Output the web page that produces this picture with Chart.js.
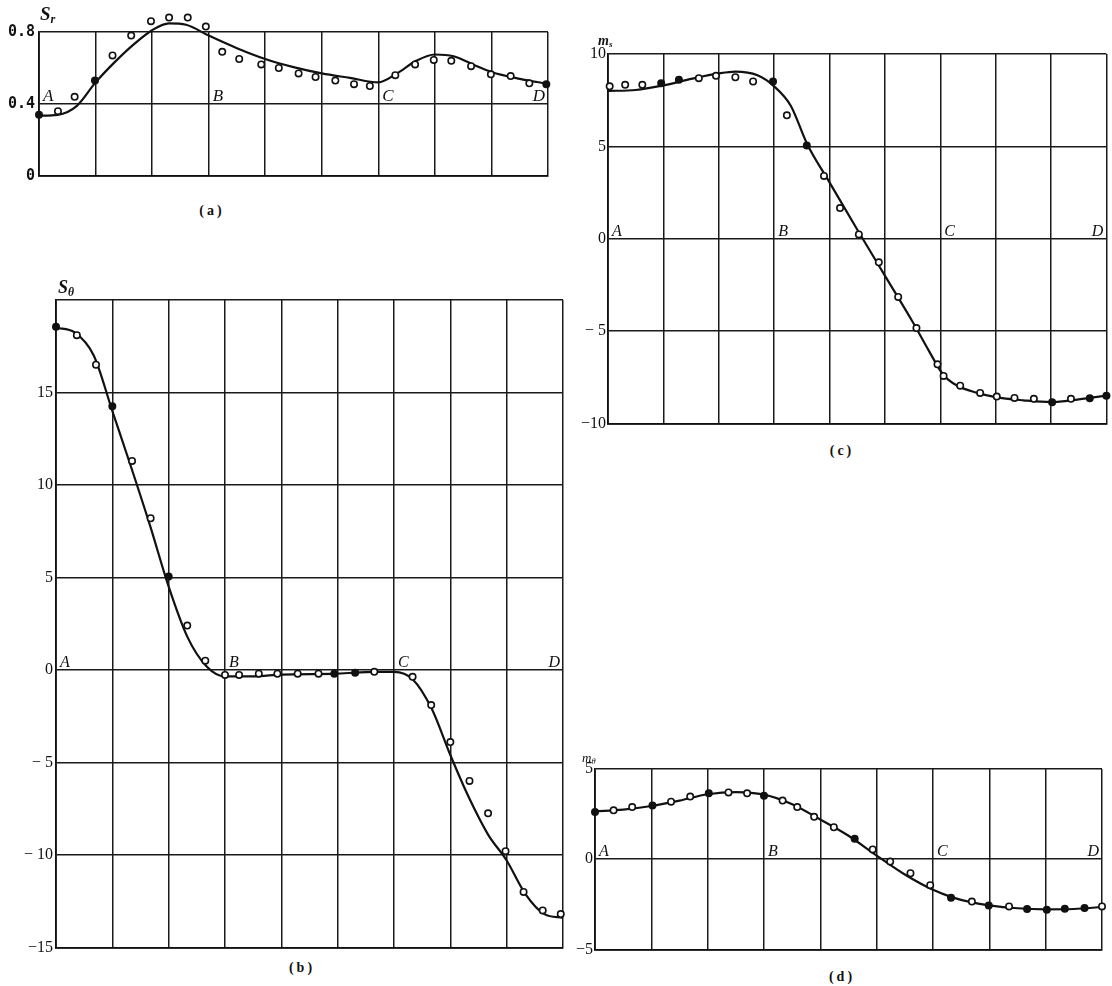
<!DOCTYPE html>
<html><head><meta charset="utf-8">
<script src="https://cdn.jsdelivr.net/npm/chart.js@4.4.1/dist/chart.umd.min.js"></script>
<style>
html,body{margin:0;padding:0;background:#fff;width:1112px;height:986px;overflow:hidden;}
canvas{position:absolute;}
.lbl{position:absolute;font-family:"Liberation Serif","DejaVu Serif",serif;color:#111;white-space:nowrap;line-height:1;}
.ttl{font-style:italic;font-weight:bold;}
.ttl sub{font-size:0.65em;vertical-align:-0.25em;}
.cap{font-size:14px;font-weight:bold;letter-spacing:3px;transform:translateX(-50%);}
</style></head><body>
<canvas id="ca"></canvas>
<canvas id="cb"></canvas>
<canvas id="cc"></canvas>
<canvas id="cd"></canvas>
<div class="lbl ttl" style="left:40px;top:4px;font-size:19px;">S<sub>r</sub></div>
<div class="lbl ttl" style="left:58px;top:278px;font-size:18px;">S<sub>θ</sub></div>
<div class="lbl ttl" style="left:598px;top:34px;font-size:14px;">m<sub>s</sub></div>
<div class="lbl ttl" style="left:582px;top:751px;font-size:13px;font-weight:normal;">m<sub>θ</sub></div>
<div class="lbl cap" style="left:212px;top:204px;">(a)</div>
<div class="lbl cap" style="left:302px;top:961px;">(b)</div>
<div class="lbl cap" style="left:842px;top:444px;">(c)</div>
<div class="lbl cap" style="left:842px;top:970px;">(d)</div>
<script>
// ---------- data ----------
const pointLetters = ['A','B','C','D'];
const letterX = [0, 3, 6, 9];

// (a) S_r
const aPtX = [0,0.335,0.63,0.99,1.30,1.63,1.98,2.30,2.63,2.95,3.24,3.54,3.93,4.24,4.59,4.89,5.24,5.57,5.85,6.30,6.65,6.98,7.29,7.64,7.99,8.34,8.67,8.97];
const aPtY = [0.34,0.36,0.44,0.53,0.67,0.78,0.86,0.88,0.88,0.83,0.69,0.65,0.62,0.60,0.57,0.55,0.53,0.51,0.50,0.56,0.62,0.645,0.64,0.61,0.565,0.555,0.515,0.51];
const aFilled = [0,3,27];
const aCurveX = [0,0.33,0.67,1,1.33,1.67,2,2.3,2.6,3,3.5,4,4.5,5,5.5,6,6.33,6.67,7,7.33,7.67,8,8.5,9];
const aCurveY = [0.335,0.34,0.39,0.52,0.63,0.73,0.81,0.848,0.84,0.78,0.71,0.65,0.605,0.57,0.545,0.52,0.57,0.64,0.675,0.665,0.62,0.578,0.54,0.512];
const aTickVals = [0,0.4,0.8];
const aTickLabels = ['0','0.4','0.8'];

// (b) S_theta
const bPtX = [0,0.37,0.71,1.0,1.35,1.68,2.0,2.33,2.65,3.0,3.25,3.6,3.93,4.29,4.66,4.94,5.31,5.65,6.33,6.66,7.0,7.34,7.67,7.98,8.30,8.64,8.96];
const bPtY = [18.55,18.1,16.5,14.25,11.3,8.2,5.05,2.4,0.5,-0.27,-0.27,-0.2,-0.2,-0.2,-0.2,-0.2,-0.15,-0.1,-0.37,-1.9,-3.9,-6.0,-7.75,-9.8,-12.0,-13.0,-13.2];
const bFilled = [0,3,6,15,16];
const bCurveX = [0,0.33,0.67,1,1.33,1.67,2,2.33,2.67,3,3.5,4,5,5.67,6,6.33,6.67,7,7.33,7.67,8,8.33,8.67,9];
const bCurveY = [18.5,18.25,17.0,14.0,11.0,7.8,4.5,1.8,0.2,-0.35,-0.35,-0.25,-0.2,-0.1,-0.1,-0.5,-2.1,-4.6,-6.9,-8.9,-10.3,-12.1,-13.2,-13.4];
const bTickVals = [-15,-10,-5,0,5,10,15,20];
const bTickLabels = ['−15','− 10','− 5','0','5','10','15',''];

// (c) m_s
const cPtX = [0.03,0.31,0.62,0.96,1.28,1.64,1.95,2.30,2.62,2.98,3.23,3.59,3.90,4.19,4.53,4.89,5.24,5.57,5.95,6.06,6.36,6.72,7.02,7.34,7.69,8.02,8.36,8.70,9.0];
const cPtY = [8.25,8.33,8.33,8.42,8.6,8.69,8.82,8.74,8.51,8.51,6.68,5.04,3.40,1.66,0.23,-1.28,-3.15,-4.84,-6.8,-7.43,-7.96,-8.35,-8.55,-8.62,-8.67,-8.85,-8.67,-8.64,-8.5];
const cFilled = [3,4,9,11,25,27,28];
const cCurveX = [0,0.5,1,1.5,2,2.3,2.7,3,3.3,3.6,4,4.5,5,5.5,5.8,6.05,6.3,6.67,7,7.5,8,8.5,9];
const cCurveY = [8.0,8.05,8.3,8.65,8.95,9.05,8.85,8.25,7.2,5.1,3.05,0.5,-2.0,-4.5,-6.1,-7.35,-7.95,-8.35,-8.58,-8.75,-8.85,-8.7,-8.5];
const cTickVals = [-10,-5,0,5,10];
const cTickLabels = ['−10','− 5','0','5','10'];

// (d) m_theta
const dPtX = [0,0.33,0.66,1.02,1.35,1.69,2.02,2.37,2.70,3.00,3.33,3.59,3.89,4.24,4.61,4.93,5.24,5.60,5.95,6.32,6.69,6.99,7.35,7.67,8.02,8.34,8.69,9.0];
const dPtY = [2.62,2.71,2.89,2.98,3.19,3.47,3.65,3.70,3.65,3.52,3.25,2.89,2.35,1.77,1.14,0.54,-0.13,-0.78,-1.44,-2.13,-2.35,-2.56,-2.62,-2.76,-2.80,-2.74,-2.71,-2.62];
const dFilled = [0,3,6,9,14,19,21,23,24,25,26];
const dCurveX = [0,0.5,1,1.5,2,2.5,3,3.5,4,4.5,5,5.5,6,6.33,6.67,7,7.5,8,8.5,9];
const dCurveY = [2.65,2.75,2.95,3.25,3.6,3.72,3.58,3.05,2.2,1.3,0.2,-0.85,-1.7,-2.1,-2.38,-2.56,-2.72,-2.78,-2.76,-2.65];
const dTickVals = [-5,0,5];
const dTickLabels = ['−5','0','5'];

// ---------- drawing ----------
const AXW = 44;
// let marks that lie just outside the frame (e.g. above 0.8 in panel a) still be drawn
const overflowPlugin = {
  id: 'overflow',
  beforeDatasetsDraw(chart) {
    chart._savedArea = Object.assign({}, chart.chartArea);
    const a = chart.chartArea;
    a.top -= 30; a.bottom += 30; a.left -= 10; a.right += 10;
    a.width = a.right - a.left; a.height = a.bottom - a.top;
  },
  afterDatasetsDraw(chart) {
    Object.assign(chart.chartArea, chart._savedArea);
  }
};
const lettersPlugin = {
  id: 'letters',
  afterDatasetsDraw(chart, args, opts) {
    const {ctx, scales:{x, y}} = chart;
    ctx.save();
    ctx.fillStyle = '#111';
    ctx.font = 'italic ' + (opts.size || 16) + 'px "Liberation Serif", "DejaVu Serif", serif';
    ctx.textBaseline = 'alphabetic';
    pointLetters.forEach((t, i) => {
      const px = x.getPixelForValue(letterX[i]);
      const py = y.getPixelForValue(opts.refY) - 3;
      if (i === pointLetters.length - 1) { ctx.textAlign = 'right'; ctx.fillText(t, px - 3, py); }
      else { ctx.textAlign = 'left'; ctx.fillText(t, px + 4, py); }
    });
    ctx.restore();
  }
};

function makeChart(id, g, d) {
  const cv = document.getElementById(id);
  const PT = 22, PB = 6, PR = g.pr;
  const W = (g.R - g.L) + AXW + PR, H = (g.B - g.T) + PT + PB;
  cv.width = W; cv.height = H;
  cv.style.left = (g.L - AXW) + 'px'; cv.style.top = (g.T - PT) + 'px';
  cv.style.width = W + 'px'; cv.style.height = H + 'px';
  const pts = d.px.map((v, i) => ({x: v, y: d.py[i]}));
  const crv = d.cx.map((v, i) => ({x: v, y: d.cy[i]}));
  return new Chart(cv, {
    type: 'line',
    data: { datasets: [
      { data: crv, borderColor: '#111', borderWidth: 2.2, pointRadius: 0, cubicInterpolationMode: 'monotone', clip: false, order: 2 },
      { data: pts, showLine: false, pointRadius: 3.2, pointBorderWidth: 1.6, pointBorderColor: '#111',
        pointBackgroundColor: c => d.filled.includes(c.dataIndex) ? '#111' : '#fff', clip: false, order: 1 }
    ]},
    options: {
      responsive: false, animation: false, devicePixelRatio: 1,
      layout: { padding: { left: 0, top: PT, right: PR, bottom: PB } },
      plugins: { legend: {display: false}, tooltip: {enabled: false}, letters: { refY: d.refY, size: d.lsize } },
      scales: {
        x: { type: 'linear', min: 0, max: 9,
          afterBuildTicks: s => { s.ticks = [0,1,2,3,4,5,6,7,8,9].map(v => ({value: v})); },
          afterFit: s => { s.height = 0; },
          ticks: { display: false },
          grid: { color: '#1a1a1a', lineWidth: 1.5, drawTicks: false },
          border: { color: '#111', width: 1.8 } },
        y: { type: 'linear', min: d.ymin, max: d.ymax,
          afterBuildTicks: s => { s.ticks = d.tv.map(v => ({value: v})); },
          afterFit: s => { s.width = AXW; },
          ticks: { padding: d.tpad, color: '#111', font: d.tfont,
            callback: (v) => { const k = d.tv.indexOf(v); return k >= 0 ? d.tl[k] : ''; } },
          grid: { color: '#1a1a1a', lineWidth: 1.5, drawTicks: false },
          border: { color: '#111', width: 1.8 } }
      }
    },
    plugins: [overflowPlugin, lettersPlugin]
  });
}

const serifTick = { family: '"Liberation Serif", "DejaVu Serif", serif', size: 16 };
makeChart('ca', {L:39, T:32, R:548, B:183, pr:6},
  {px:aPtX, py:aPtY, cx:aCurveX, cy:aCurveY, filled:aFilled, ymin:0, ymax:0.8, tv:aTickVals, tl:aTickLabels,
   refY:0.4, lsize:17, tpad:4, tfont:{ family:'"DejaVu Sans Mono", "Liberation Mono", monospace', size:15, weight:'bold' }});
makeChart('cb', {L:56, T:300, R:563, B:954, pr:6},
  {px:bPtX, py:bPtY, cx:bCurveX, cy:bCurveY, filled:bFilled, ymin:-15, ymax:20, tv:bTickVals, tl:bTickLabels,
   refY:0, lsize:16, tpad:3, tfont:serifTick});
makeChart('cc', {L:608, T:54, R:1110, B:429, pr:2},
  {px:cPtX, py:cPtY, cx:cCurveX, cy:cCurveY, filled:cFilled, ymin:-10, ymax:10, tv:cTickVals, tl:cTickLabels,
   refY:0, lsize:16, tpad:2, tfont:serifTick});
makeChart('cd', {L:595, T:769, R:1102, B:955, pr:6},
  {px:dPtX, py:dPtY, cx:dCurveX, cy:dCurveY, filled:dFilled, ymin:-5, ymax:5, tv:dTickVals, tl:dTickLabels,
   refY:0, lsize:16, tpad:2, tfont:serifTick});
</script>
</body></html>
